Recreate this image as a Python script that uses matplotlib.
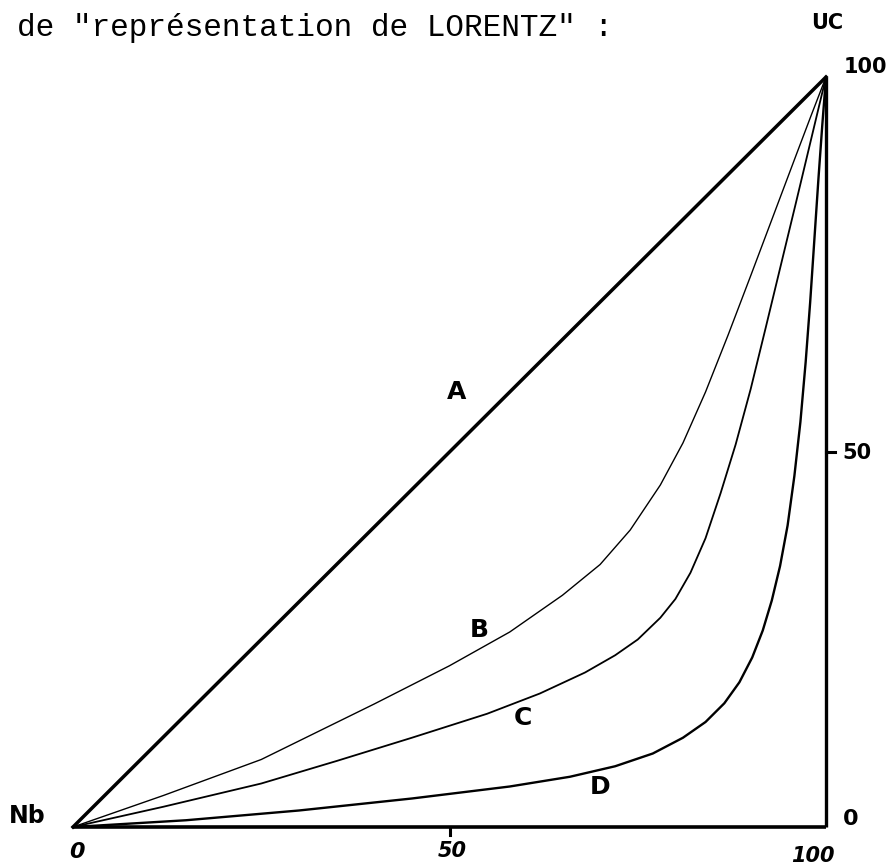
import numpy as np
import matplotlib
matplotlib.use("Agg")
import matplotlib.pyplot as plt

# Courbes de Lorentz (x = % Nb, y = % UC)
x_A = [0, 100]
y_A = [0, 100]

x_B = [0, 12, 25, 40, 50, 58, 65, 70, 74, 78, 81, 84, 87, 90, 93, 96, 98, 100]
y_B = [0, 4.2, 9.0, 16.4, 21.5, 26.0, 30.9, 35.0, 39.6, 45.6, 51.2, 58.0, 65.6, 73.5, 81.5, 89.5, 94.8, 100]

x_C = [0, 12, 25, 35, 45, 55, 62, 68, 72, 75, 78, 80, 82, 84, 86, 88, 90, 92, 94, 96, 98, 100]
y_C = [0, 2.7, 5.8, 8.8, 11.9, 15.1, 17.8, 20.6, 22.9, 25.0, 27.9, 30.4, 33.9, 38.5, 44.5, 51.0, 58.4, 66.6, 74.9, 83.2, 91.6, 100]

x_D = [0, 15, 30, 45, 58, 66, 72, 77, 81, 84, 86.5, 88.5, 90.2, 91.6, 92.8, 93.9,
       94.9, 95.8, 96.6, 97.3, 97.9, 98.5, 99.0, 99.5, 100]
y_D = [0, 0.9, 2.2, 3.8, 5.4, 6.7, 8.1, 9.8, 11.9, 14.0, 16.5, 19.3, 22.6, 26.2, 30.2, 34.8,
       40.2, 46.8, 54.0, 62.0, 70.0, 79.0, 86.5, 93.5, 100]

fig = plt.figure(figsize=(8.91, 8.67), dpi=100)
ax = fig.add_axes([73/891, 40/867, 753/891, 750/867])
ax.set_xlim(0, 100)
ax.set_ylim(0, 100)
ax.axis("off")

# axes dessines a la main
ax.plot([0, 100], [0, 0], color="black", lw=2.6, solid_capstyle="butt", clip_on=False)
ax.plot([100, 100], [0, 100], color="black", lw=2.4, solid_capstyle="butt", clip_on=False)
ax.plot([50, 50], [0, -1.1], color="black", lw=2.2, clip_on=False)
ax.plot([100, 101.2], [50, 50], color="black", lw=2.2, clip_on=False)

ax.plot(x_A, y_A, color="black", lw=2.5, clip_on=False)
ax.plot(x_B, y_B, color="black", lw=1.0, clip_on=False)
ax.plot(x_C, y_C, color="black", lw=1.3, clip_on=False)
ax.plot(x_D, y_D, color="black", lw=1.7, clip_on=False)

hand = dict(family="DejaVu Sans", fontweight="heavy", ha="center", va="center",
            color="black", clip_on=False)
ax.text(51.0, 58.0, "A", fontsize=18, **hand)
ax.text(54.0, 26.3, "B", fontsize=18, **hand)
ax.text(59.8, 14.5, "C", fontsize=18, **hand)
ax.text(70.0, 5.3, "D", fontsize=18, **hand)
ax.text(-6.1, 1.5, "Nb", fontsize=17, **hand)
ax.text(100.1, 107.2, "UC", fontsize=15, **hand)

ax.text(0.5, -3.3, "0", fontsize=16, style="italic", **hand)
ax.text(50.3, -3.2, "50", fontsize=15, style="italic", **hand)
ax.text(98.3, -3.9, "100", fontsize=15, style="italic", **hand)
ax.text(103.3, 1.1, "0", fontsize=16, **hand)
ax.text(104.1, 49.9, "50", fontsize=15, **hand)
ax.text(105.3, 101.3, "100", fontsize=15, **hand)

fig.text(17/891, 1 - 36/867, 'de "représentation de LORENTZ" :',
         family="Liberation Mono", fontsize=22.4, va="baseline", ha="left")

fig.savefig("out.png", dpi=100, facecolor="white")
